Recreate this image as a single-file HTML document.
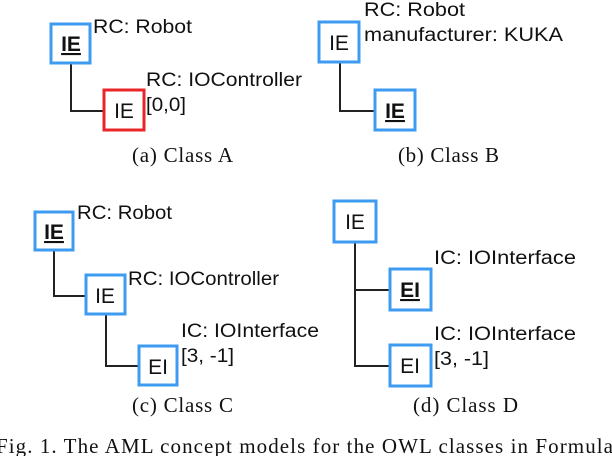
<!DOCTYPE html>
<html><head><meta charset="utf-8"><style>
html,body{margin:0;padding:0;background:#fff;}
svg{display:block;}
.l{font-family:"Liberation Sans",sans-serif;font-size:19px;fill:#111;}
.b{font-family:"Liberation Sans",sans-serif;font-size:21px;fill:#111;text-anchor:middle;}
.bb{font-family:"Liberation Sans",sans-serif;font-size:21px;fill:#111;text-anchor:middle;font-weight:bold;text-decoration:underline;}
.c{font-family:"Liberation Serif",serif;font-size:21px;fill:#111;}
rect{fill:#fff;stroke-width:3;}
.bl{stroke:#3d9bf2;}
.rd{stroke:#e8262a;}
path{fill:none;stroke:#222;stroke-width:2;}
</style></head><body>
<svg width="612" height="456" viewBox="0 0 612 456">
<!-- A -->
<path d="M71 64 V111 H104"/>
<rect class="bl" x="51" y="24" width="39" height="39"/>
<text class="bb" x="71" y="51">IE</text>
<rect class="rd" x="104" y="90" width="40" height="40"/>
<text class="b" x="124" y="118">IE</text>
<text class="l" x="93" y="33" textLength="99" lengthAdjust="spacingAndGlyphs">RC: Robot</text>
<text class="l" x="146" y="86" textLength="156" lengthAdjust="spacingAndGlyphs">RC: IOController</text>
<text class="l" x="146" y="111" textLength="40" lengthAdjust="spacingAndGlyphs">[0,0]</text>
<text class="c" x="132" y="162" textLength="101" lengthAdjust="spacing">(a) Class A</text>
<!-- B -->
<path d="M340 62 V111 H374"/>
<rect class="bl" x="319" y="22" width="40" height="40"/>
<text class="b" x="339" y="50">IE</text>
<rect class="bl" x="375" y="90" width="40" height="40"/>
<text class="bb" x="395" y="118">IE</text>
<text class="l" x="364" y="16" textLength="101" lengthAdjust="spacingAndGlyphs">RC: Robot</text>
<text class="l" x="364" y="41" textLength="199" lengthAdjust="spacingAndGlyphs">manufacturer: KUKA</text>
<text class="c" x="398" y="162" textLength="101" lengthAdjust="spacing">(b) Class B</text>
<!-- C -->
<path d="M54 250 V296 H85"/>
<path d="M106 314 V366 H138"/>
<rect class="bl" x="35" y="212" width="38" height="38"/>
<text class="bb" x="54" y="239">IE</text>
<rect class="bl" x="86" y="275" width="39" height="39"/>
<text class="b" x="105" y="303">IE</text>
<rect class="bl" x="139" y="346" width="38" height="39"/>
<text class="b" x="158" y="374">EI</text>
<text class="l" x="77" y="219" textLength="95" lengthAdjust="spacingAndGlyphs">RC: Robot</text>
<text class="l" x="128" y="285" textLength="151" lengthAdjust="spacingAndGlyphs">RC: IOController</text>
<text class="l" x="181" y="337" textLength="138" lengthAdjust="spacingAndGlyphs">IC: IOInterface</text>
<text class="l" x="181" y="362" textLength="53" lengthAdjust="spacingAndGlyphs">[3, -1]</text>
<text class="c" x="132" y="412" textLength="101" lengthAdjust="spacing">(c) Class C</text>
<!-- D -->
<path d="M355 242 V366 H389 M355 290 H389"/>
<rect class="bl" x="334" y="201" width="42" height="41"/>
<text class="b" x="355" y="229">IE</text>
<rect class="bl" x="390" y="269" width="41" height="41"/>
<text class="bb" x="410" y="297">EI</text>
<rect class="bl" x="390" y="345" width="41" height="41"/>
<text class="b" x="410" y="373">EI</text>
<text class="l" x="434" y="264" textLength="142" lengthAdjust="spacingAndGlyphs">IC: IOInterface</text>
<text class="l" x="434" y="340" textLength="142" lengthAdjust="spacingAndGlyphs">IC: IOInterface</text>
<text class="l" x="434" y="365" textLength="55" lengthAdjust="spacingAndGlyphs">[3, -1]</text>
<text class="c" x="413" y="412" textLength="105" lengthAdjust="spacing">(d) Class D</text>
<text class="c" x="-4" y="453" textLength="617" lengthAdjust="spacing">Fig. 1.  The AML concept models for the OWL classes in Formula</text>
</svg>
</body></html>
